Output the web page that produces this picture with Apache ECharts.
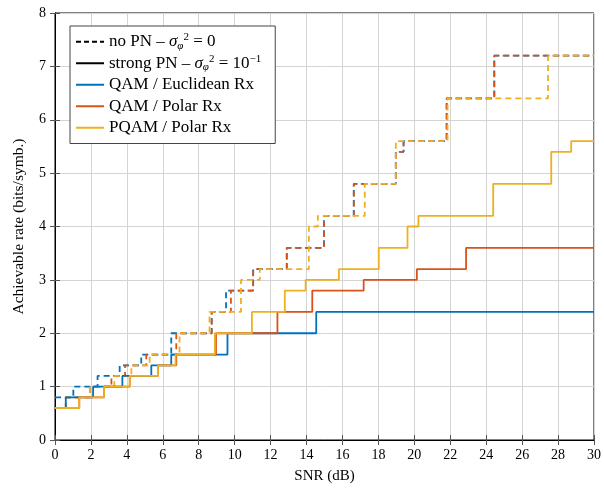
<!DOCTYPE html>
<html>
<head>
<meta charset="utf-8">
<script src="https://cdn.jsdelivr.net/npm/echarts@6/dist/echarts.min.js"></script>
<style>
html,body{margin:0;padding:0;background:#fff;}
#c{width:604px;height:490px;}
</style>
</head>
<body>
<div id="c"></div>
<script>
// ---- data (SNR breakpoints in dB where each level starts, and the levels in bits/symb.) ----
const snrMax = 30;
const blueNoPN_x = [0, 1.02, 2.37, 3.6, 4.8, 6.47, 8.72, 9.52, 11.03, 12.9, 14.97, 16.63, 18.97, 19.4, 21.8, 24.45];
const blueNoPN_y = [0.8, 1.0, 1.2, 1.4, 1.6, 2.0, 2.4, 2.8, 3.2, 3.6, 4.2, 4.8, 5.4, 5.6, 6.4, 7.2];
const redNoPN_x = [0, 0.6, 1.94, 3.14, 3.9, 5.08, 6.75, 8.72, 9.79, 11.03, 12.9, 14.97, 16.63, 18.97, 19.4, 21.8, 24.45];
const redNoPN_y = [0.6, 0.8, 1.0, 1.2, 1.4, 1.6, 2.0, 2.4, 2.8, 3.2, 3.6, 4.2, 4.8, 5.4, 5.6, 6.4, 7.2];
const yellowNoPN_x = [0, 0.6, 1.94, 3.3, 4.25, 5.27, 6.93, 8.6, 10.35, 11.4, 14.13, 14.63, 17.24, 18.97, 21.85, 27.44];
const yellowNoPN_y = [0.6, 0.8, 1.0, 1.2, 1.4, 1.6, 2.0, 2.4, 3.0, 3.2, 4.0, 4.2, 4.8, 5.6, 6.4, 7.2];
const blueStrong_x = [0, 0.6, 2.12, 3.75, 5.36, 6.47, 9.6, 14.54];
const blueStrong_y = [0.6, 0.8, 1.0, 1.2, 1.4, 1.6, 2.0, 2.4];
const redStrong_x = [0, 1.35, 2.73, 4.16, 5.73, 6.75, 8.96, 12.38, 14.32, 17.18, 20.14, 22.88];
const redStrong_y = [0.6, 0.8, 1.0, 1.2, 1.4, 1.6, 2.0, 2.4, 2.8, 3.0, 3.2, 3.6];
const yellowStrong_x = [0, 1.35, 2.73, 4.16, 5.73, 6.71, 8.9, 10.96, 12.79, 13.95, 15.8, 18.02, 19.62, 20.23, 24.39, 27.62, 28.73];
const yellowStrong_y = [0.6, 0.8, 1.0, 1.2, 1.4, 1.6, 2.0, 2.4, 2.8, 3.0, 3.2, 3.6, 4.0, 4.2, 4.8, 5.4, 5.6];

const names = ['QAM / Euclidean Rx', 'QAM / Polar Rx', 'PQAM / Polar Rx'];
const colors = ['#0072BD', '#D95319', '#EDB120'];

function stepData(xs, ys) {
  const d = xs.map((x, i) => [x, ys[i]]);
  d.push([snrMax, ys[ys.length - 1]]);
  return d;
}

const FONT = 'Liberation Serif';
const chart = echarts.init(document.getElementById('c'), null, {renderer: 'canvas'});

function mk(name, color, xs, ys, dashed, z) {
  return {
    name: name, type: 'line', step: 'end', symbol: 'none', showSymbol: false, silent: true,
    data: stepData(xs, ys), z: z,
    lineStyle: {color: color, width: 1.8, type: dashed ? [6, 4] : 'solid'},
    itemStyle: {color: color}
  };
}

const series = [
  {name: 'noPN', type: 'line', data: [], symbol: 'none', lineStyle: {color: '#000', width: 1.8, type: [5, 3]}, itemStyle: {color: '#000'}},
  {name: 'strongPN', type: 'line', data: [], symbol: 'none', lineStyle: {color: '#000', width: 1.8, type: 'solid'}, itemStyle: {color: '#000'}},
  mk('b_np', colors[0], blueNoPN_x, blueNoPN_y, true, 2),
  mk('r_np', colors[1], redNoPN_x, redNoPN_y, true, 3),
  mk('y_np', colors[2], yellowNoPN_x, yellowNoPN_y, true, 4),
  mk(names[0], colors[0], blueStrong_x, blueStrong_y, false, 5),
  mk(names[1], colors[1], redStrong_x, redStrong_y, false, 6),
  mk(names[2], colors[2], yellowStrong_x, yellowStrong_y, false, 7)
];

const gridColor = '#d4d4d4';
const labelStyle = {fontFamily: FONT, fontSize: 14, color: '#000'};

chart.setOption({
  animation: false,
  backgroundColor: '#fff',
  grid: {left: 55, right: 7, top: 13, bottom: 50, containLabel: false, show: true, borderColor: '#000', borderWidth: 1, backgroundColor: 'transparent'},
  legend: {
    data: ['noPN', 'strongPN'].concat(names),
    orient: 'vertical', left: 70, top: 26, itemWidth: 28, itemHeight: 12, itemGap: 2,
    padding: [6, 14, 6, 5],
    backgroundColor: '#fff', borderColor: '#444', borderWidth: 1,
    selectedMode: false,
    itemStyle: {opacity: 0},
    formatter: function (n) {
      if (n === 'noPN') return 'no PN \u2013 {it|\u03c3}{sub|\u03c6}{sup|2} = 0';
      if (n === 'strongPN') return 'strong PN \u2013 {it|\u03c3}{sub|\u03c6}{sup|2} = 10{sup|\u22121}';
      return n;
    },
    textStyle: {
      fontFamily: FONT, fontSize: 17, color: '#000', lineHeight: 19.5,
      rich: {
        it: {fontFamily: FONT, fontSize: 17, fontStyle: 'italic', lineHeight: 19.5},
        sub: {fontFamily: FONT, fontSize: 11, fontStyle: 'italic', verticalAlign: 'bottom', lineHeight: 19.5},
        sup: {fontFamily: FONT, fontSize: 11, verticalAlign: 'top', lineHeight: 19.5}
      }
    }
  },
  xAxis: [{
    type: 'value', min: 0, max: 30, interval: 2,
    name: 'SNR (dB)', nameLocation: 'middle', nameGap: 29,
    nameTextStyle: {fontFamily: FONT, fontSize: 15, color: '#000'},
    axisLine: {show: true, lineStyle: {color: '#000', width: 1}},
    axisTick: {show: true, inside: true, length: 5, lineStyle: {color: '#555'}},
    axisLabel: Object.assign({margin: 8}, labelStyle),
    splitLine: {show: true, lineStyle: {color: gridColor, width: 1}}
  }, {
    type: 'value', min: 0, max: 30, interval: 2, position: 'top',
    axisLine: {show: true, lineStyle: {color: '#000'}},
    axisTick: {show: true, inside: true, length: 5, lineStyle: {color: '#555'}},
    axisLabel: {show: false}, splitLine: {show: false}
  }],
  yAxis: [{
    type: 'value', min: 0, max: 8, interval: 1,
    name: 'Achievable rate (bits/symb.)', nameLocation: 'middle', nameGap: 28,
    nameTextStyle: {fontFamily: FONT, fontSize: 15.5, color: '#000'},
    axisLine: {show: true, lineStyle: {color: '#000', width: 1}},
    axisTick: {show: true, inside: true, length: 5, lineStyle: {color: '#555'}},
    axisLabel: Object.assign({margin: 9}, labelStyle),
    splitLine: {show: true, lineStyle: {color: gridColor, width: 1}}
  }, {
    type: 'value', min: 0, max: 8, interval: 1, position: 'right',
    axisLine: {show: true, lineStyle: {color: '#000'}},
    axisTick: {show: true, inside: true, length: 5, lineStyle: {color: '#555'}},
    axisLabel: {show: false}, splitLine: {show: false}
  }],
  series: series
});
</script>
</body>
</html>
